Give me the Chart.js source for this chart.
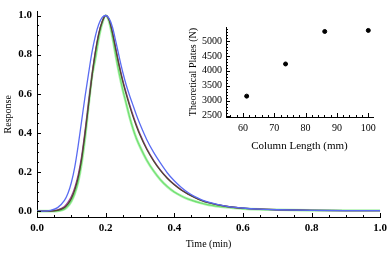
<!DOCTYPE html>
<html>
<head>
<meta charset="utf-8">
<script src="https://cdn.jsdelivr.net/npm/chart.js@4"></script>
<style>
html,body{margin:0;padding:0;background:#fff;}
#wrap{position:relative;width:392px;height:253px;}
#main{position:absolute;left:0;top:0;width:392px;height:253px;}
#inset{position:absolute;left:186px;top:14px;width:206px;height:141px;}
</style>
</head>
<body>
<div id="wrap">
<div id="main"><canvas id="c1"></canvas></div>
<div id="inset"><canvas id="c2"></canvas></div>
</div>
<script>
// ---- main chart data ----
const times = [0,0.02,0.04,0.06,0.08,0.09,0.10,0.11,0.12,0.13,0.14,0.15,0.16,0.17,0.18,0.19,0.20,0.21,0.22,0.23,0.24,0.25,0.26,0.27,0.28,0.29,0.30,0.32,0.34,0.36,0.38,0.40,0.42,0.44,0.46,0.48,0.50,0.55,0.60,0.65,0.70,0.80,0.90,1.0];
const blueResp = [0,0,0.004,0.018,0.055,0.09,0.145,0.225,0.335,0.46,0.585,0.70,0.81,0.895,0.955,0.99,1.0,0.985,0.94,0.865,0.785,0.71,0.645,0.59,0.54,0.49,0.445,0.365,0.30,0.245,0.195,0.155,0.122,0.095,0.074,0.058,0.046,0.026,0.016,0.010,0.007,0.004,0.003,0.003];
const purpleResp = [0,0,0.001,0.006,0.024,0.045,0.075,0.12,0.185,0.28,0.41,0.555,0.695,0.815,0.91,0.97,1.0,0.98,0.915,0.83,0.745,0.67,0.605,0.545,0.49,0.44,0.395,0.32,0.26,0.21,0.17,0.137,0.11,0.088,0.07,0.055,0.044,0.025,0.015,0.010,0.007,0.004,0.003,0.003];
const darkResp = [0,0,0,0.004,0.018,0.036,0.064,0.108,0.172,0.265,0.395,0.54,0.685,0.81,0.905,0.968,1.0,0.978,0.91,0.822,0.737,0.662,0.597,0.537,0.482,0.433,0.389,0.315,0.256,0.207,0.167,0.135,0.108,0.087,0.069,0.054,0.043,0.025,0.015,0.010,0.007,0.004,0.003,0.003];
const greenResp = [0,0,0,0.001,0.010,0.025,0.05,0.09,0.15,0.245,0.375,0.535,0.685,0.78,0.885,0.96,1.0,0.97,0.89,0.79,0.70,0.62,0.55,0.48,0.42,0.37,0.33,0.26,0.205,0.16,0.125,0.098,0.078,0.062,0.05,0.04,0.032,0.02,0.013,0.009,0.007,0.004,0.003,0.003];

// ---- inset data ----
const columnLength = [61.2, 73.6, 86.1, 100];
const plates = [3150, 4230, 5320, 5355];

const serif = "'Liberation Serif','DejaVu Serif',serif";

function pts(xs, ys){ return xs.map((x,i)=>({x:x,y:ys[i]})); }

// Inward ticks plugin
const inwardTicks = {
  id:'inwardTicks',
  afterDraw(chart, args, opts){
    const ctx = chart.ctx;
    const xs = chart.scales.x, ys = chart.scales.y;
    const area = chart.chartArea;
    ctx.save();
    ctx.strokeStyle = '#000';
    ctx.lineWidth = 1;
    function drawX(step, len){
      const n0 = Math.ceil(xs.min/step - 1e-9), n1 = Math.floor(xs.max/step + 1e-9);
      for(let n=n0;n<=n1;n++){
        const px = Math.round(xs.getPixelForValue(n*step))+0.5;
        ctx.beginPath(); ctx.moveTo(px, area.bottom); ctx.lineTo(px, area.bottom - len); ctx.stroke();
      }
    }
    function drawY(step, len){
      const n0 = Math.ceil(ys.min/step - 1e-9), n1 = Math.floor(ys.max/step + 1e-9);
      for(let n=n0;n<=n1;n++){
        const py = Math.round(ys.getPixelForValue(n*step))+0.5;
        ctx.beginPath(); ctx.moveTo(area.left, py); ctx.lineTo(area.left + len, py); ctx.stroke();
      }
    }
    drawX(opts.xMinor, 2); drawX(opts.xMajor, 4);
    drawY(opts.yMinor, 2); drawY(opts.yMajor, 4);
    ctx.restore();
  }
};

const mainChart = new Chart(document.getElementById('c1'), {
  type:'line',
  data:{
    datasets:[
      {data:pts(times, blueResp), borderColor:'#5a6cf2', borderWidth:1.3},
      {data:pts(times, darkResp), borderColor:'#4f4a30', borderWidth:1.3},
      {data:pts(times, purpleResp), borderColor:'#a03c9c', borderWidth:1.3},
      {data:pts(times, greenResp), borderColor:'rgba(140,235,140,0.7)', borderWidth:2.6},
      {data:pts(times, greenResp), borderColor:'#2bc42b', borderWidth:1.1}
    ]
  },
  options:{
    responsive:true, maintainAspectRatio:false, animation:false,
    devicePixelRatio:1,
    layout:{padding:{top:2,right:7,left:0,bottom:0}},
    elements:{point:{radius:0}, line:{cubicInterpolationMode:'monotone', fill:false}},
    plugins:{legend:{display:false}, tooltip:{enabled:false},
      inwardTicks:{xMajor:0.2, xMinor:0.05, yMajor:0.2, yMinor:0.05}},
    scales:{
      x:{type:'linear', min:0, max:1.0,
        grid:{display:false, drawTicks:false},
        border:{display:true, color:'#000', width:1},
        ticks:{stepSize:0.2, padding:5, color:'#000', font:{family:serif, size:11, weight:'bold'},
          callback:v=>v.toFixed(1), maxRotation:0},
        title:{display:true, text:'Time (min)', color:'#000', font:{family:serif, size:10}, padding:{top:0,bottom:3}},
        afterFit(s){ s.height = 36; }
      },
      y:{type:'linear', min:-0.03, max:1.02,
        grid:{display:false, drawTicks:false},
        border:{display:true, color:'#000', width:1},
        ticks:{stepSize:0.2, padding:5, color:'#000', font:{family:serif, size:11, weight:'bold'},
          callback:v=>v.toFixed(1)},
        afterBuildTicks(s){ s.ticks = [0,0.2,0.4,0.6,0.8,1.0].map(v=>({value:v})); },
        title:{display:true, text:'Response', color:'#000', font:{family:serif, size:10}, padding:{top:2,bottom:0}},
        afterFit(s){ s.width = 37; }
      }
    }
  },
  plugins:[inwardTicks]
});

const insetChart = new Chart(document.getElementById('c2'), {
  type:'scatter',
  data:{datasets:[{data:pts(columnLength, plates), backgroundColor:'#000', borderColor:'#000', pointRadius:2, pointStyle:'circle'}]},
  options:{
    responsive:true, maintainAspectRatio:false, animation:false,
    devicePixelRatio:1,
    layout:{padding:{top:13,right:19,left:0,bottom:0}},
    plugins:{legend:{display:false}, tooltip:{enabled:false},
      inwardTicks:{xMajor:10, xMinor:2, yMajor:500, yMinor:100}},
    scales:{
      x:{type:'linear', min:54.6, max:101.5,
        grid:{display:false, drawTicks:false},
        border:{display:true, color:'#000', width:1},
        afterBuildTicks(s){ s.ticks = [60,70,80,90,100].map(v=>({value:v})); },
        ticks:{padding:5, color:'#000', font:{family:serif, size:10}, maxRotation:0, callback:v=>String(v)},
        title:{display:true, text:'Column Length (mm)', color:'#000', font:{family:serif, size:11}, padding:{top:0,bottom:2}},
        afterFit(s){ s.height = 38; }
      },
      y:{type:'linear', min:2450, max:5470,
        grid:{display:false, drawTicks:false},
        border:{display:true, color:'#000', width:1},
        afterBuildTicks(s){ s.ticks = [2500,3000,3500,4000,4500,5000].map(v=>({value:v})); },
        ticks:{padding:4, color:'#000', font:{family:serif, size:10}, callback:v=>String(v)},
        title:{display:true, text:'Theoretical Plates (N)', color:'#000', font:{family:serif, size:10}, padding:{top:1,bottom:0}},
        afterFit(s){ s.width = 40; }
      }
    }
  },
  plugins:[inwardTicks]
});
</script>
</body>
</html>
